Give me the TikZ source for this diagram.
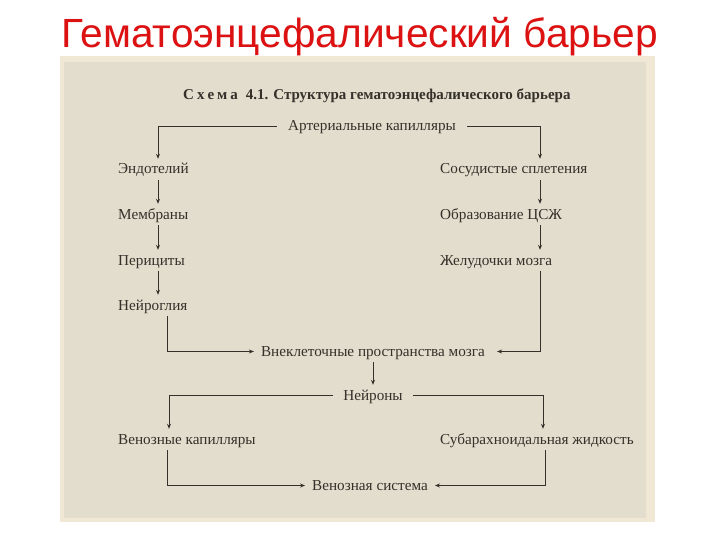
\documentclass[tikz,border=0pt]{standalone}
\usepackage{fontspec}
\setmainfont{Liberation Serif}
\newfontfamily\titlefont{Liberation Sans}
\usetikzlibrary{arrows.meta}
\definecolor{panel}{RGB}{226,221,204}
\definecolor{panelrim}{RGB}{240,232,212}
\definecolor{ink}{RGB}{52,48,42}
\definecolor{titlered}{RGB}{220,18,18}
\begin{document}
\begin{tikzpicture}[x=1pt,y=-1pt,
  every node/.style={inner sep=0pt},
  lbl/.style={font=\fontsize{15.2}{17}\selectfont, text=ink, anchor=base west,
    text height=11pt, text depth=2pt, inner ysep=4pt, inner xsep=6pt},
  arr/.style={draw=ink, line width=0.9pt, -{Stealth[length=5pt,width=4pt]}}]
\useasboundingbox (0,0) rectangle (720,540);
\fill[white] (0,0) rectangle (720,540);
\fill[panelrim] (60,56) rectangle (655,522);
\fill[panel] (64,62) rectangle (646,518);
% title
\node[anchor=base, font=\titlefont\fontsize{40.7}{42}\selectfont, text=titlered] (title) at (359.5,48) {Гематоэнцефалический барьер};
% scheme caption
\node[lbl, font=\bfseries\fontsize{15}{17}\selectfont] (sch) at (177,100) {С\hspace{3pt}х\hspace{3pt}е\hspace{3pt}м\hspace{3pt}а\hspace{8pt}4.1. Структура гематоэнцефалического барьера};
% nodes
\node[lbl, anchor=base, inner xsep=11pt] (art) at (372,131) {Артериальные капилляры};
\node[lbl] (e)  at (112,174) {Эндотелий};
\node[lbl] (m)  at (112,219) {Мембраны};
\node[lbl] (p)  at (112,265) {Перициты};
\node[lbl] (ng) at (112,310) {Нейроглия};
\node[lbl] (s)  at (434,174) {Сосудистые сплетения};
\node[lbl] (o)  at (434,219) {Образование ЦСЖ};
\node[lbl] (z)  at (434,265) {Желудочки мозга};
\node[lbl, anchor=base, inner xsep=7pt] (v) at (373,356) {Внеклеточные пространства мозга};
\node[lbl, anchor=base, inner xsep=10pt] (nr) at (373,400) {Нейроны};
\node[lbl] (vk) at (112,444) {Венозные капилляры};
\node[lbl] (sa) at (434,444) {Субарахноидальная жидкость};
\node[lbl, anchor=base, inner xsep=7pt] (vs) at (370,490) {Венозная система};
% guide coordinates
\coordinate (xl) at (158,0);
\coordinate (xr) at (540,0);
\coordinate (xn) at (167,0);
\coordinate (xa) at (169,0);
\coordinate (xb) at (543,0);
\coordinate (xc) at (545,0);
% connectors
\draw[arr] (art.west) -| (e.north -| xl);
\draw[arr] (art.east) -| (s.north -| xr);
\draw[arr] (e.south -| xl) -- (m.north -| xl);
\draw[arr] (m.south -| xl) -- (p.north -| xl);
\draw[arr] (p.south -| xl) -- (ng.north -| xl);
\draw[arr] (s.south -| xr) -- (o.north -| xr);
\draw[arr] (o.south -| xr) -- (z.north -| xr);
\draw[arr] (ng.south -| xn) |- (v.west);
\draw[arr, shorten >=5pt] (z.south -| xr) |- (v.east);
\draw[arr] (v.south) -- (v.south |- nr.north);
\draw[arr] (nr.west) -| (vk.north -| xa);
\draw[arr] (nr.east) -| (sa.north -| xb);
\draw[arr] (vk.south -| xn) |- (vs.west);
\draw[arr] (sa.south -| xc) |- (vs.east);
\end{tikzpicture}
\end{document}
